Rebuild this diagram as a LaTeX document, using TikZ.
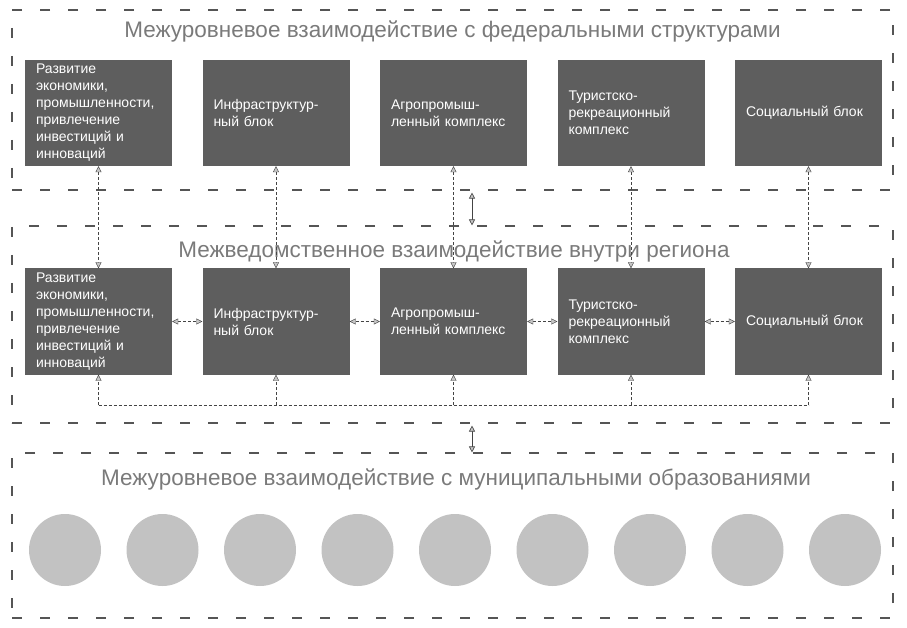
\documentclass[tikz,border=0pt]{standalone}
\usepackage{fontspec}
\setmainfont{Liberation Sans}
\usetikzlibrary{calc, positioning, arrows.meta}
\definecolor{panelgray}{HTML}{555555}
\definecolor{boxgray}{HTML}{5E5E5E}
\definecolor{titlegray}{HTML}{7A7A7A}
\definecolor{circgray}{HTML}{C2C2C2}
\definecolor{linkgray}{HTML}{444444}

\begin{document}
\begin{tikzpicture}[x=1pt, y=-1pt, font=\fontsize{14}{17}\selectfont]

\useasboundingbox (0,0) rectangle (907,628);

% Styles
\tikzset{
  panel/.style={draw=panelgray, line width=1.1pt, dash pattern=on 10pt off 18pt,
    minimum width=881pt, inner sep=0pt},
  title/.style={titlegray, font=\fontsize{22.5}{26}\selectfont, inner sep=0pt},
  block/.style={fill=boxgray, text=white, minimum width=147pt, minimum height=106pt,
    text width=125pt, inner xsep=11pt, inner ysep=1pt, align=left},
  town/.style={circle, fill=circgray, minimum size=72pt, inner sep=0pt},
  tip/.tip={Triangle[length=6pt, width=6pt, fill=gray!45]},
  link/.style={draw=linkgray, thin, dash pattern=on 3pt off 2pt, tip-tip},
  uplink/.style={draw=linkgray, thin, dash pattern=on 3pt off 2pt, -tip},
  bus/.style={draw=linkgray, thin, dash pattern=on 3pt off 2pt}
}

% Panels
\node[panel, minimum height=180pt] (p1) at (452.5,100) {};
\node[panel, minimum height=197pt] (p2) at (452.5,324.5) {};
\node[panel, minimum height=165pt] (p3) at (452.5,535.5) {};

% Titles
\node[title] (t1) at (452.5,31) {Межуровневое взаимодействие с федеральными структурами};
\node[title] (t2) at (454,251) {Межведомственное взаимодействие внутри региона};
\node[title] (t3) at (456,479) {Межуровневое взаимодействие с муниципальными образованиями};

% Blocks: federal row (f) and regional row (r)
\foreach \i/\txt in {1/{Развитие экономики, промышленности, привлечение инвестиций и инноваций},
                     2/{Инфраструктур-\\ный блок},
                     3/{Агропромыш-\\ленный комплекс},
                     4/{Туристско-\\рекреационный\\комплекс},
                     5/{Социальный блок}} {
    \node[block] (f\i) at ({98.5+177.5*(\i-1)},113) {\txt};
    \node[block] (r\i) at ({98.5+177.5*(\i-1)},321.5) {\txt};
    \draw[link] (f\i.south) -- (r\i.north);
}

% Links inside the region
\foreach \i/\j in {1/2, 2/3, 3/4, 4/5} {
    \draw[link] (r\i.east) -- (r\j.west);
}

% Bus under the regional row
\coordinate (busline) at (0,405);
\draw[bus] (r1.south |- busline) -- (r5.south |- busline);
\foreach \i in {1,...,5} {
    \draw[uplink] (r\i.south |- busline) -- (r\i.south);
}

% Links between panels
\coordinate (mid) at (472,0);
\draw[draw=linkgray, semithick, tip-tip] ($(p1.south -| mid)+(0,2)$) -- (p2.north -| mid);
\draw[draw=linkgray, semithick, tip-tip] ($(p2.south -| mid)+(0,2)$) -- (p3.north -| mid);

% Municipalities
\foreach \k in {1,...,9} {
    \node[town] (m\k) at ({65+97.5*(\k-1)},550) {};
}

\end{tikzpicture}
\end{document}
